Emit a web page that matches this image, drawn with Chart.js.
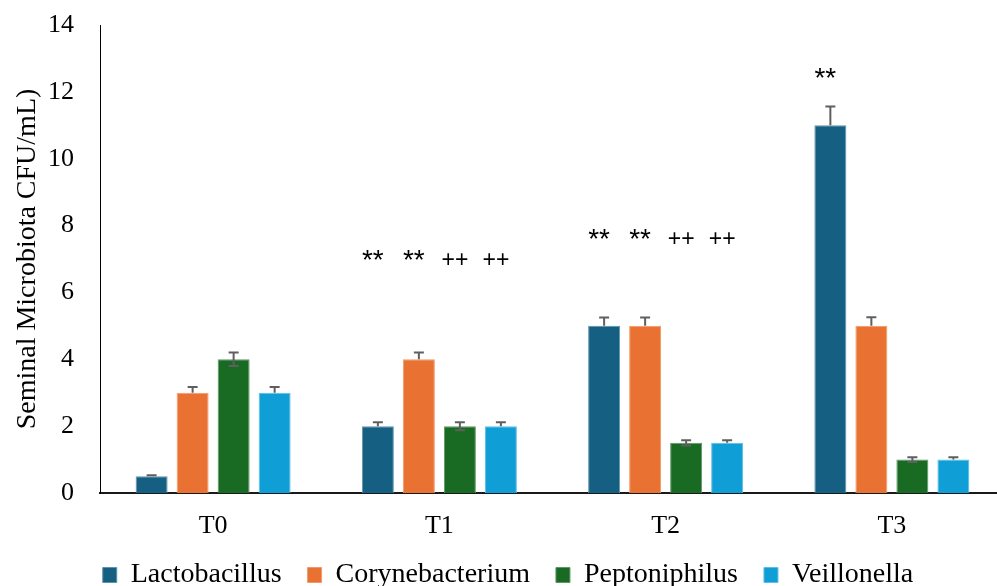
<!DOCTYPE html>
<html>
<head>
<meta charset="utf-8">
<script src="https://cdn.jsdelivr.net/npm/chart.js@4.4.1/dist/chart.umd.min.js"></script>
<style>
  html, body { margin: 0; padding: 0; background: #fff; overflow: hidden; }
  #wrap { position: relative; width: 1005px; height: 599px; }
</style>
</head>
<body>
<div id="wrap"><canvas id="chart"></canvas></div>
<script>
// Sampling times
const categories = ['T0', 'T1', 'T2', 'T3'];

// Mean counts per genus
const lactobacillus   = [0.5, 2, 5, 11];
const corynebacterium = [3, 4, 5, 5];
const peptoniphilus   = [4, 2, 1.5, 1];
const veillonella     = [3, 2, 1.5, 1];

// Error (± spread) per genus
const lactobacillusErr   = [0.03, 0.12, 0.25, 0.56];
const corynebacteriumErr = [0.17, 0.2, 0.25, 0.26];
const peptoniphilusErr   = [0.2, 0.12, 0.08, 0.07];
const veillonellaErr     = [0.17, 0.12, 0.08, 0.07];

// Significance marks per genus
const lactobacillusMarks   = ['', '**', '**', '**'];
const corynebacteriumMarks = ['', '**', '**', ''];
const peptoniphilusMarks   = ['', '++', '++', ''];
const veillonellaMarks     = ['', '++', '++', ''];

// Value-axis ticks
const yTicks = [0, 2, 4, 6, 8, 10, 12, 14];

const SERIF = '"Liberation Serif", "Times New Roman", serif';

function series(label, data, err, marks, color, border, bothWays) {
  return {
    label, data,
    errors: err, marks, bothWays,
    backgroundColor: color,
    borderColor: border,
    borderWidth: 1,
    categoryPercentage: 0.725,
    barPercentage: 0.78
  };
}

// Error bars drawn over the bars
const errorBars = {
  id: 'errorBars',
  afterDatasetsDraw(chart) {
    const { ctx, scales: { y } } = chart;
    ctx.save();
    ctx.strokeStyle = '#5f5f5f';
    ctx.lineWidth = 2;
    chart.data.datasets.forEach((ds, i) => {
      const meta = chart.getDatasetMeta(i);
      meta.data.forEach((bar, j) => {
        const v = ds.data[j], e = ds.errors[j];
        const x = bar.x, half = 5;
        const top = y.getPixelForValue(v + e);
        const bot = ds.bothWays ? y.getPixelForValue(v - e) : y.getPixelForValue(v);
        ctx.beginPath();
        ctx.moveTo(x, bot); ctx.lineTo(x, top);
        ctx.moveTo(x - half, top); ctx.lineTo(x + half, top);
        if (ds.bothWays) { ctx.moveTo(x - half, bot); ctx.lineTo(x + half, bot); }
        ctx.stroke();
      });
    });
    ctx.restore();
  }
};

// Significance marks above each group, centred on the given level
const sigMarks = {
  id: 'sigMarks',
  afterDatasetsDraw(chart, args, opts) {
    const { ctx, scales: { y } } = chart;
    ctx.save();
    ctx.fillStyle = '#000';
    ctx.textAlign = 'center';
    ctx.textBaseline = 'alphabetic';
    chart.data.datasets.forEach((ds, i) => {
      const meta = chart.getDatasetMeta(i);
      meta.data.forEach((bar, j) => {
        const m = ds.marks[j];
        if (!m || opts.levels[j] == null) return;
        const star = m.includes('*');
        ctx.font = (star ? '28px' : '23px') + ' "Liberation Sans", Arial, sans-serif';
        const tm = ctx.measureText(m);
        const centre = y.getPixelForValue(opts.levels[j]) + (star ? -2 : 2);
        const base = centre + (tm.actualBoundingBoxAscent - tm.actualBoundingBoxDescent) / 2;
        ctx.fillText(m, bar.x + opts.dx, base);
      });
    });
    ctx.restore();
  }
};

new Chart(document.getElementById('chart'), {
  type: 'bar',
  data: {
    labels: categories,
    datasets: [
      series('Lactobacillus', lactobacillus, lactobacillusErr, lactobacillusMarks, '#156082', '#5f93ad', false),
      series('Corynebacterium', corynebacterium, corynebacteriumErr, corynebacteriumMarks, '#E97132', '#f09a6c', false),
      series('Peptoniphilus', peptoniphilus, peptoniphilusErr, peptoniphilusMarks, '#196B24', '#5e9665', true),
      series('Veillonella', veillonella, veillonellaErr, veillonellaMarks, '#0F9ED5', '#5bbfe6', false)
    ]
  },
  plugins: [errorBars, sigMarks],
  options: {
    responsive: true,
    maintainAspectRatio: false,
    animation: false,
    layout: { padding: { left: 11, right: 0, top: 25, bottom: 0 } },
    plugins: {
      tooltip: { enabled: false },
      sigMarks: { levels: [null, 7.06, 7.69, 12.51], dx: -5 },
      legend: {
        position: 'bottom',
        labels: {
          font: { family: SERIF, size: 28 },
          color: '#000',
          boxWidth: 14,
          boxHeight: 15,
          padding: 26
        }
      }
    },
    scales: {
      x: {
        grid: { display: false, drawTicks: false },
        border: { display: true, color: '#1a1a1a', width: 2 },
        ticks: { font: { family: SERIF, size: 26 }, color: '#000', padding: 18 },
        afterFit(scale) { scale.height = 42; }
      },
      y: {
        min: 0, max: 14,
        afterBuildTicks(scale) { scale.ticks = yTicks.map(v => ({ value: v })); },
        grid: { display: false, drawTicks: false },
        border: { display: true, color: '#000', width: 1 },
        ticks: { font: { family: SERIF, size: 26 }, color: '#000', padding: 26 },
        title: {
          display: true,
          text: 'Seminal Microbiota CFU/mL)',
          font: { family: SERIF, size: 28 },
          color: '#000',
          padding: { top: 0, bottom: 0 }
        },
        afterFit(scale) {
          scale.width = 89;
          scale.paddingTop = 0;
          scale.paddingBottom = 0;
        }
      }
    }
  }
});
</script>
</body>
</html>
